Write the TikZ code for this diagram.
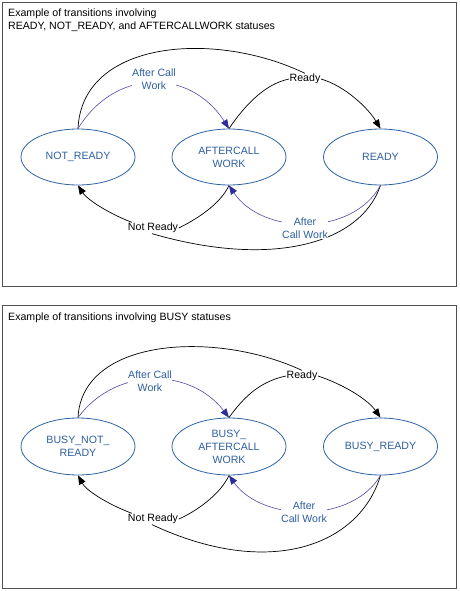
\documentclass[tikz,border=0pt]{standalone}
\usepackage{fontspec}
\setmainfont{Liberation Sans}
\usetikzlibrary{shapes.geometric,arrows.meta}
\definecolor{ellblue}{HTML}{2C64A4}
\definecolor{txtblue}{HTML}{2D5FA0}
\definecolor{conblue}{HTML}{5446A8}
\definecolor{tipblue}{HTML}{2B2E9A}
\definecolor{framegray}{HTML}{505050}
\tikzset{
  base/.style={font=\fontsize{10.6}{13}\selectfont},
  state/.style={base, ellipse, draw=ellblue, line width=0.8pt, text=txtblue,
    minimum width=114pt, minimum height=56pt, inner sep=0pt, align=center},
  blab/.style={base, text=txtblue, fill=white, inner sep=0.5pt, align=center},
  klab/.style={base, text=black, fill=white, inner sep=0.5pt},
  title/.style={base, anchor=base west, inner sep=0pt},
  kline/.style={draw=black, line width=0.7pt},
  karrow/.style={kline, -{Triangle[length=9pt,width=7pt]}},
  bline/.style={draw=conblue, line width=0.6pt},
  barrow/.style={bline, -{Triangle[length=9pt,width=7pt,color=tipblue]}},
  panel/.style={draw=framegray, line width=0.8pt}
}
\begin{document}
\begin{tikzpicture}[x=1pt,y=-1pt]
\useasboundingbox (0,0) rectangle (459,591);
% ---------- top panel ----------
\draw[panel] (2.5,2.5) rectangle (456,286);
\node[title] (t1) at (8,17) {Example of transitions involving};
\node[title] (t2) at (8,30) {READY, NOT\_READY, and AFTERCALLWORK statuses};
\node[state] (nr) at (78,157) {NOT\_READY};
\node[state] (aw) at (229,157) {AFTERCALL\\WORK};
\node[state] (rd) at (380.5,157) {READY};
\node[klab] (readyA) at (305,79) {Ready};
\node[klab] (notA) at (153,228) {Not Ready};
% black connectors
\draw[kline] (nr.north) .. controls (82,40) and (215,30) .. (readyA.north);
\draw[kline] (aw.north) .. controls (245,105) and (265,84) .. (readyA.west);
\draw[karrow] (readyA.east) .. controls (345,86) and (368,108) .. (rd.north);
\draw[kline] (aw.south) .. controls (220,205) and (195,220) .. (notA.east);
\draw[kline] (rd.south) .. controls (360,245) and (270,268) .. (notA.-100);
\draw[karrow] (notA.165) .. controls (105,212) and (86,198) .. (nr.south);
% blue connectors
\draw[barrow] (nr.north) .. controls (115,68) and (190,68) .. (aw.north);
\draw[barrow] (rd.south) .. controls (352,237) and (262,235) .. (aw.south);
\node[blab] (acwA1) at (154,79) {After Call\\Work};
\node[blab] (acwA2) at (305,228) {After\\Call Work};
% ---------- bottom panel ----------
\draw[panel] (2.5,305) rectangle (456,588);
\node[title] (t3) at (8,320) {Example of transitions involving BUSY statuses};
\node[state, minimum height=57pt] (bnr) at (78,446.5) {BUSY\_NOT\_\\READY};
\node[state, minimum height=57pt] (baw) at (229,446.5) {BUSY\_\\AFTERCALL\\WORK};
\node[state, minimum height=57pt] (brd) at (380.5,446.5) {BUSY\_READY};
\node[klab] (readyB) at (302,376) {Ready};
\node[klab] (notB) at (153,519) {Not Ready};
\draw[kline] (bnr.north) .. controls (82,338) and (215,330) .. (readyB.north);
\draw[kline] (baw.north) .. controls (245,395) and (262,381) .. (readyB.west);
\draw[karrow] (readyB.east) .. controls (345,385) and (368,400) .. (brd.north);
\draw[kline] (baw.south) .. controls (220,495) and (195,512) .. (notB.east);
\draw[kline] (brd.south) .. controls (360,545) and (270,580) .. (notB.-100);
\draw[karrow] (notB.165) .. controls (105,503) and (86,490) .. (bnr.south);
\draw[barrow] (bnr.north) .. controls (115,367) and (190,367) .. (baw.north);
\draw[barrow] (brd.south) .. controls (352,524) and (262,522) .. (baw.south);
\node[blab] (acwB1) at (150,381) {After Call\\Work};
\node[blab] (acwB2) at (304,512) {After\\Call Work};
\end{tikzpicture}
\end{document}
